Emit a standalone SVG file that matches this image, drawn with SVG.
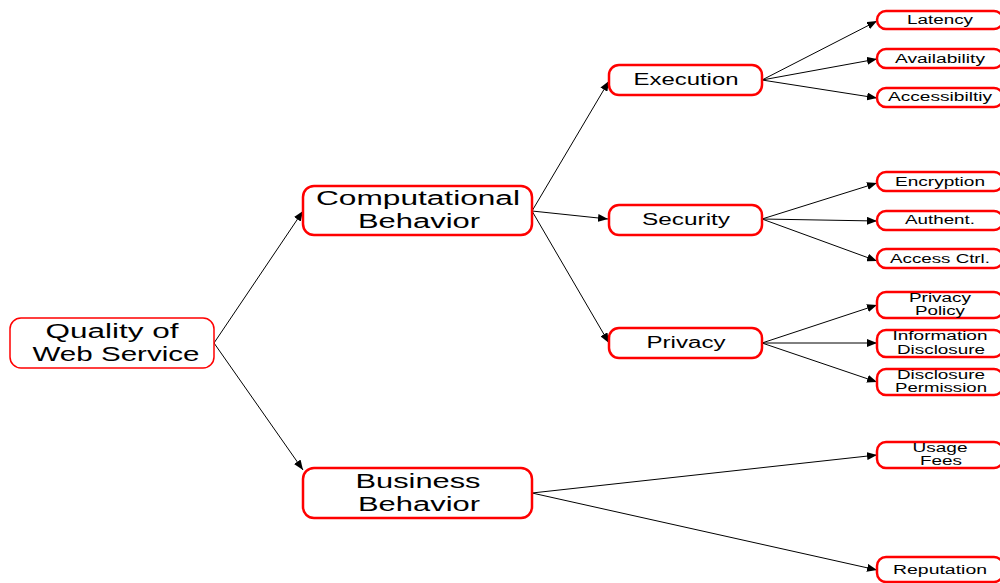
<svg xmlns="http://www.w3.org/2000/svg" width="1000" height="583" viewBox="0 0 1000 583">
<defs>
<style>
.n{fill:#fff;stroke:#ff0000;stroke-width:2.5}
.r{fill:#fff;stroke:#ff0000;stroke-width:1.5}
text{font-family:"Liberation Sans",Arial,sans-serif;fill:#000;text-anchor:middle}
.big{font-size:20px}
.mid{font-size:16px}
.sm{font-size:12px}
.c line{stroke:#000;stroke-width:1;marker-end:url(#ah)}
</style>
<marker id="ah" viewBox="0 0 10 8" refX="10" refY="4" markerWidth="10" markerHeight="8" markerUnits="userSpaceOnUse" orient="auto">
<path d="M0,0 L10,4 L0,8 Z" fill="#000"/>
</marker>
</defs>
<g class="c" id="connectors">
<line x1="214" y1="343" x2="303" y2="211"/>
<line x1="214" y1="343" x2="303" y2="470"/>
<line x1="532" y1="211" x2="609" y2="81"/>
<line x1="532" y1="211" x2="608" y2="219"/>
<line x1="532" y1="211" x2="609" y2="343"/>
<line x1="762" y1="80" x2="877" y2="21"/>
<line x1="762" y1="80" x2="877" y2="59"/>
<line x1="762" y1="80" x2="877" y2="98"/>
<line x1="762" y1="219" x2="877" y2="183"/>
<line x1="762" y1="219" x2="877" y2="221"/>
<line x1="762" y1="219" x2="877" y2="261"/>
<line x1="762" y1="343" x2="877" y2="305"/>
<line x1="762" y1="343" x2="877" y2="343"/>
<line x1="762" y1="343" x2="877" y2="382"/>
<line x1="532" y1="493" x2="877" y2="455"/>
<line x1="532" y1="493" x2="877" y2="570"/>
</g>
<g id="root">
<rect class="r" x="10" y="318" width="204" height="50" rx="11"/>
<text class="big" x="112" y="338" textLength="133" lengthAdjust="spacingAndGlyphs">Quality of</text>
<text class="big" x="116" y="361" textLength="167" lengthAdjust="spacingAndGlyphs">Web Service</text>
</g>
<g id="computational">
<rect class="n" x="303" y="186" width="229" height="49" rx="11"/>
<text class="big" x="418" y="205" textLength="204" lengthAdjust="spacingAndGlyphs">Computational</text>
<text class="big" x="419" y="228" textLength="122" lengthAdjust="spacingAndGlyphs">Behavior</text>
</g>
<g id="business">
<rect class="n" x="303" y="468" width="229" height="50" rx="11"/>
<text class="big" x="418" y="488" textLength="125" lengthAdjust="spacingAndGlyphs">Business</text>
<text class="big" x="419" y="511" textLength="122" lengthAdjust="spacingAndGlyphs">Behavior</text>
</g>
<g id="execution">
<rect class="n" x="609" y="65" width="153" height="30" rx="10"/>
<text class="mid" x="686" y="85" textLength="105" lengthAdjust="spacingAndGlyphs">Execution</text>
</g>
<g id="security">
<rect class="n" x="609" y="205" width="153" height="30" rx="10"/>
<text class="mid" x="686" y="225" textLength="88" lengthAdjust="spacingAndGlyphs">Security</text>
</g>
<g id="privacy">
<rect class="n" x="609" y="328" width="153" height="30" rx="10"/>
<text class="mid" x="686" y="348" textLength="79" lengthAdjust="spacingAndGlyphs">Privacy</text>
</g>
<g id="latency">
<rect class="n" x="877" y="11" width="126" height="18" rx="9"/>
<text class="sm" x="940" y="24" textLength="66" lengthAdjust="spacingAndGlyphs">Latency</text>
</g>
<g id="availability">
<rect class="n" x="877" y="49" width="126" height="19" rx="9"/>
<text class="sm" x="940" y="63" textLength="90" lengthAdjust="spacingAndGlyphs">Availability</text>
</g>
<g id="accessibility">
<rect class="n" x="877" y="88" width="126" height="19" rx="9"/>
<text class="sm" x="940" y="101" textLength="104" lengthAdjust="spacingAndGlyphs">Accessibiltiy</text>
</g>
<g id="encryption">
<rect class="n" x="877" y="172" width="126" height="19" rx="9"/>
<text class="sm" x="940" y="186" textLength="90" lengthAdjust="spacingAndGlyphs">Encryption</text>
</g>
<g id="authent">
<rect class="n" x="877" y="211" width="126" height="19" rx="9"/>
<text class="sm" x="940" y="224" textLength="70" lengthAdjust="spacingAndGlyphs">Authent.</text>
</g>
<g id="accessctrl">
<rect class="n" x="877" y="249" width="126" height="19" rx="9"/>
<text class="sm" x="940" y="263" textLength="100" lengthAdjust="spacingAndGlyphs">Access Ctrl.</text>
</g>
<g id="privacypolicy">
<rect class="n" x="877" y="292" width="126" height="26" rx="9"/>
<text class="sm" x="940" y="302" textLength="62" lengthAdjust="spacingAndGlyphs">Privacy</text>
<text class="sm" x="940" y="315" textLength="50" lengthAdjust="spacingAndGlyphs">Policy</text>
</g>
<g id="infodisclosure">
<rect class="n" x="877" y="330" width="126" height="27" rx="9"/>
<text class="sm" x="940" y="340" textLength="95" lengthAdjust="spacingAndGlyphs">Information</text>
<text class="sm" x="941" y="354" textLength="88" lengthAdjust="spacingAndGlyphs">Disclosure</text>
</g>
<g id="disclosurepermission">
<rect class="n" x="877" y="369" width="126" height="26" rx="9"/>
<text class="sm" x="941" y="379" textLength="88" lengthAdjust="spacingAndGlyphs">Disclosure</text>
<text class="sm" x="941" y="392" textLength="92" lengthAdjust="spacingAndGlyphs">Permission</text>
</g>
<g id="usagefees">
<rect class="n" x="877" y="442" width="126" height="26" rx="9"/>
<text class="sm" x="940" y="452" textLength="55" lengthAdjust="spacingAndGlyphs">Usage</text>
<text class="sm" x="941" y="465" textLength="42" lengthAdjust="spacingAndGlyphs">Fees</text>
</g>
<g id="reputation">
<rect class="n" x="877" y="557" width="126" height="25" rx="9"/>
<text class="sm" x="940" y="574" textLength="94" lengthAdjust="spacingAndGlyphs">Reputation</text>
</g>
</svg>
